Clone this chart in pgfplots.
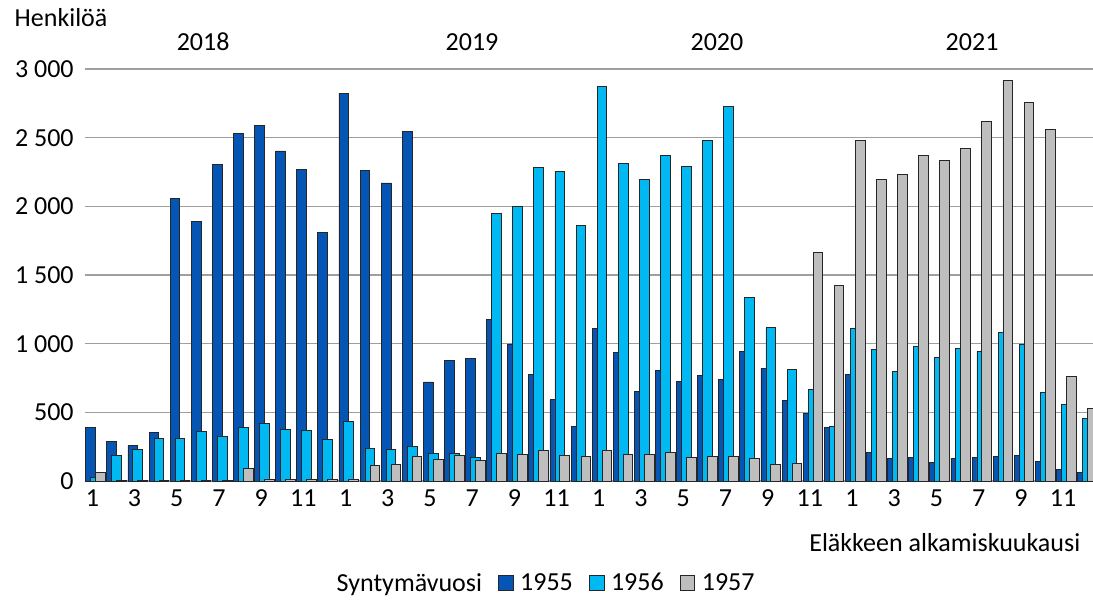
\documentclass[border=0pt]{standalone}
\usepackage{fontspec}
\setmainfont{Carlito}
\usepackage{pgfplots}
\pgfplotsset{compat=1.18}
\definecolor{c55}{HTML}{0556B4}
\definecolor{c56}{HTML}{00B8F2}
\definecolor{c57}{HTML}{BEBEBE}
\newcommand\chartfont{\fontsize{19.5}{23}\selectfont}
\begin{document}
\begin{tikzpicture}
\useasboundingbox (-63.75pt,-89.25pt) rectangle (756pt,360.75pt);
\begin{axis}[
  at={(0,0)}, anchor=south west,
  scale only axis, width=756pt, height=309pt,
  xmin=-0.5, xmax=47.27, ymin=0, ymax=3000,
  ybar, bar width=7.3pt,
  clip mode=individual,
  axis x line*=bottom, axis y line*=left,
  x axis line style={draw=gray!75, line width=1pt, -},
  y axis line style={draw=none},
  major tick length=0pt,
  ymajorgrids, grid style={gray!75, line width=1pt},
  ytick={0,500,...,3000},
  /pgf/number format/.cd, 1000 sep={\ }, assume math mode=true, /pgfplots/.cd,
  yticklabel style={font=\chartfont, xshift=-5pt},
  xtick={-0.15,1.85,...,46},
  xticklabels={1,3,5,7,9,11,1,3,5,7,9,11,1,3,5,7,9,11,1,3,5,7,9,11},
  xticklabel style={font=\chartfont, yshift=-3pt},
  xlabel={Eläkkeen alkamiskuukausi},
  every axis x label/.style={at={(axis description cs:0.992,-0.150)}, anchor=east, font=\chartfont},
  ylabel={Henkilöä},
  every axis y label/.style={at={(axis description cs:-0.0744,1.1238)}, anchor=west, font=\chartfont},
  legend columns=4,
  legend style={draw=none, fill=none, font=\chartfont, at={(axis description cs:0.455,-0.248)}, anchor=center,
    /tikz/every odd column/.append style={column sep=3pt},
    /tikz/every even column/.append style={column sep=10pt}},
  legend image code/.code={\draw[#1] (0pt,-5.5pt) rectangle (11pt,5.5pt);},
]
\addlegendimage{empty legend}
\addlegendentry{Syntymävuosi}
\addplot[fill=c55, draw=black!85, line width=0.6pt, bar shift=-3.7pt] coordinates {
 (0,391) (1,286) (2,257) (3,355) (4,2056) (5,1888) (6,2303) (7,2533) (8,2587) (9,2403) (10,2267) (11,1812)
 (12,2825) (13,2260) (14,2170) (15,2545) (16,721) (17,875) (18,890) (19,1176) (20,998) (21,777) (22,592) (23,394)
 (24,1112) (25,936) (26,653) (27,807) (28,724) (29,770) (30,738) (31,946) (32,822) (33,584) (34,494) (35,391)
 (36,777) (37,208) (38,164) (39,171) (40,132) (41,164) (42,171) (43,178) (44,186) (45,142) (46,81) (47,64)
};
\addlegendentry{1955}
\addplot[fill=c56, draw=black!85, line width=0.6pt, bar shift=0pt] coordinates {
 (0,25) (1,183) (2,230) (3,308) (4,313) (5,362) (6,323) (7,391) (8,416) (9,377) (10,369) (11,301)
 (12,433) (13,237) (14,230) (15,254) (16,200) (17,198) (18,174) (19,1949) (20,2002) (21,2286) (22,2257) (23,1858)
 (24,2870) (25,2311) (26,2196) (27,2372) (28,2293) (29,2479) (30,2726) (31,1335) (32,1115) (33,812) (34,667) (35,399)
 (36,1108) (37,961) (38,800) (39,983) (40,900) (41,968) (42,946) (43,1083) (44,993) (45,645) (46,555) (47,455)
};
\addlegendentry{1956}
\addplot[fill=c57, draw=black!85, line width=0.6pt, bar shift=3.7pt] coordinates {
 (0,61) (1,7) (2,5) (3,5) (4,5) (5,5) (6,5) (7,93) (8,15) (9,12) (10,12) (11,12)
 (12,15) (13,115) (14,122) (15,176) (16,154) (17,183) (18,147) (19,198) (20,191) (21,222) (22,183) (23,176)
 (24,222) (25,191) (26,191) (27,208) (28,169) (29,176) (30,176) (31,161) (32,122) (33,130) (34,1665) (35,1421)
 (36,2479) (37,2196) (38,2235) (39,2372) (40,2335) (41,2421) (42,2619) (43,2917) (44,2758) (45,2557) (46,760) (47,531)
};
\addlegendentry{1957}
\node[font=\chartfont] at (axis cs:5.1,3197) {2018};
\node[font=\chartfont] at (axis cs:17.84,3197) {2019};
\node[font=\chartfont] at (axis cs:29.45,3197) {2020};
\node[font=\chartfont] at (axis cs:41.54,3197) {2021};
\end{axis}
\end{tikzpicture}
\end{document}
